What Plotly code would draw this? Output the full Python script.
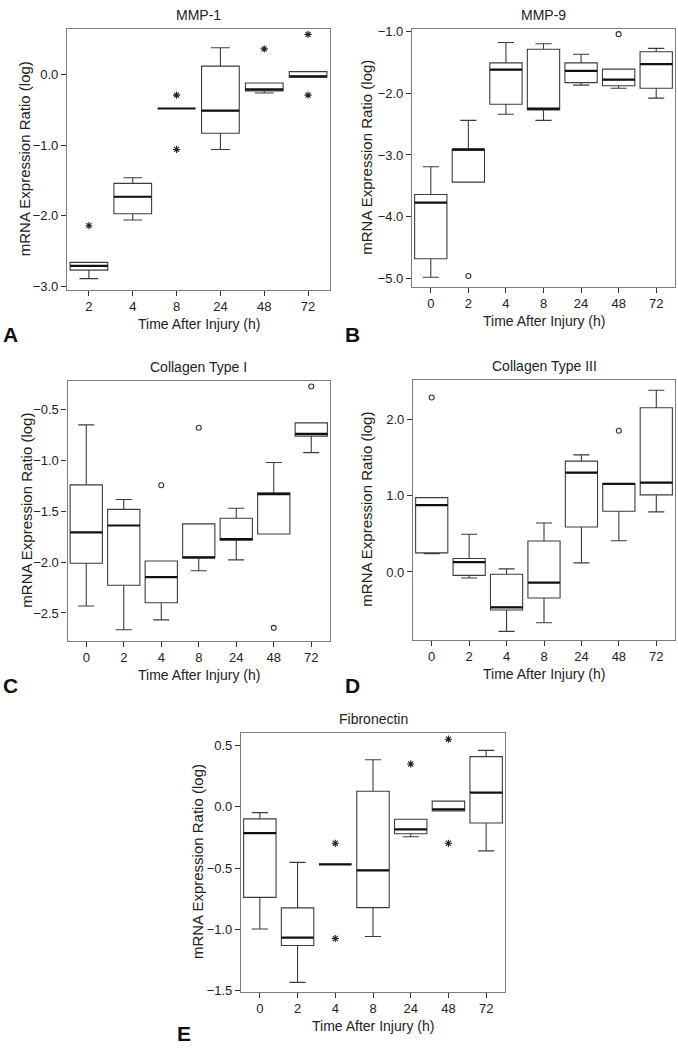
import plotly.graph_objects as go

# ---- data (log mRNA expression ratio) ----
TIMES_A = ["2", "4", "8", "24", "48", "72"]
TIMES = ["0", "2", "4", "8", "24", "48", "72"]

# A: MMP-1
A_Q1 = [-2.77, -1.97, -0.48, -0.83, -0.23, -0.038]
A_MED = [-2.71, -1.73, -0.48, -0.51, -0.21, -0.024]
A_Q3 = [-2.66, -1.54, -0.48, 0.12, -0.118, 0.042]
A_LO = [-2.89, -2.06, -0.48, -1.06, -0.26, -0.038]
A_HI = [-2.66, -1.46, -0.48, 0.38, -0.118, 0.042]
A_STAR_T = ["2", "8", "8", "48", "72", "72"]
A_STAR_V = [-2.14, -0.29, -1.06, 0.365, 0.57, -0.29]

# B: MMP-9
B_Q1 = [-4.68, -3.44, -2.18, -2.27, -1.83, -1.88, -1.92]
B_MED = [-3.77, -2.91, -1.62, -2.25, -1.64, -1.78, -1.53]
B_Q3 = [-3.64, -2.91, -1.51, -1.29, -1.51, -1.61, -1.33]
B_LO = [-4.98, -3.44, -2.34, -2.44, -1.87, -1.92, -2.08]
B_HI = [-3.19, -2.44, -1.18, -1.20, -1.37, -1.61, -1.275]
B_CIRC_T = ["2", "48"]
B_CIRC_V = [-4.96, -1.045]

# C: Collagen Type I
C_Q1 = [-2.011, -2.228, -2.40, -1.959, -1.784, -1.725, -0.763]
C_MED = [-1.709, -1.641, -2.147, -1.955, -1.774, -1.333, -0.74]
C_Q3 = [-1.242, -1.482, -1.99, -1.625, -1.57, -1.32, -0.633]
C_LO = [-2.432, -2.665, -2.568, -2.085, -1.978, -1.725, -0.925]
C_HI = [-0.652, -1.385, -1.99, -1.625, -1.472, -1.022, -0.633]
C_CIRC_T = ["4", "8", "48", "72"]
C_CIRC_V = [-1.246, -0.68, -2.646, -0.276]

# D: Collagen Type III
D_Q1 = [0.25, -0.044, -0.497, -0.341, 0.59, 0.795, 1.01]
D_MED = [0.875, 0.129, -0.462, -0.138, 1.30, 1.155, 1.17]
D_Q3 = [0.974, 0.176, -0.03, 0.405, 1.451, 1.158, 2.151]
D_LO = [0.238, -0.078, -0.778, -0.665, 0.12, 0.41, 0.787]
D_HI = [0.974, 0.495, 0.041, 0.642, 1.533, 1.158, 2.38]
D_CIRC_T = ["0", "48"]
D_CIRC_V = [2.285, 1.849]

# E: Fibronectin
E_Q1 = [-0.739, -1.132, -0.47, -0.823, -0.22, -0.035, -0.132]
E_MED = [-0.215, -1.067, -0.47, -0.519, -0.185, -0.022, 0.116]
E_Q3 = [-0.099, -0.825, -0.47, 0.126, -0.102, 0.046, 0.409]
E_LO = [-0.997, -1.433, -0.47, -1.059, -0.245, -0.035, -0.36]
E_HI = [-0.048, -0.454, -0.47, 0.384, -0.102, 0.046, 0.46]
E_STAR_T = ["4", "4", "24", "48", "48"]
E_STAR_V = [-0.298, -1.075, 0.349, 0.551, -0.298]

W, H = 678, 1050
FONT = "Liberation Sans, Arial, sans-serif"
BOXW = 0.86

panels = [
    dict(title="MMP-1", letter="A", cats=TIMES_A, q1=A_Q1, med=A_MED, q3=A_Q3, lo=A_LO, hi=A_HI,
         circ=([], []), star=(A_STAR_T, A_STAR_V),
         box=(67, 330, 24, 288), yr=[-3.047, 0.65], ytick=[-3, -2, -1, 0],
         ytitle_x=24, lpos=(10, 333)),
    dict(title="MMP-9", letter="B", cats=TIMES, q1=B_Q1, med=B_MED, q3=B_Q3, lo=B_LO, hi=B_HI,
         circ=(B_CIRC_T, B_CIRC_V), star=([], []),
         box=(412, 675, 24, 285), yr=[-5.133, -0.957], ytick=[-5, -4, -3, -2, -1],
         ytitle_x=367, lpos=(352, 333)),
    dict(title="Collagen Type I", letter="C", cats=TIMES, q1=C_Q1, med=C_MED, q3=C_Q3, lo=C_LO, hi=C_HI,
         circ=(C_CIRC_T, C_CIRC_V), star=([], []),
         box=(67.5, 330, 380, 643), yr=[-2.772, -0.218], ytick=[-2.5, -2, -1.5, -1, -0.5],
         ytitle_x=27, lpos=(10, 688)),
    dict(title="Collagen Type III", letter="D", cats=TIMES, q1=D_Q1, med=D_MED, q3=D_Q3, lo=D_LO, hi=D_HI,
         circ=(D_CIRC_T, D_CIRC_V), star=([], []),
         box=(413, 675, 379, 642), yr=[-0.886, 2.518], ytick=[0, 1, 2],
         ytitle_x=367, lpos=(352, 688)),
    dict(title="Fibronectin", letter="E", cats=TIMES, q1=E_Q1, med=E_MED, q3=E_Q3, lo=E_LO, hi=E_HI,
         circ=([], []), star=(E_STAR_T, E_STAR_V),
         box=(241, 505, 736, 998), yr=[-1.508, 0.605], ytick=[-1.5, -1, -0.5, 0, 0.5],
         ytitle_x=197, lpos=(184, 1040)),
]

fig = go.Figure()
annotations = []
layout_axes = {}


def px(x):
    return x / W


def py(y):
    return 1 - y / H


for k, p in enumerate(panels):
    n = len(p["cats"])
    pos = list(range(n))
    xa = "x" if k == 0 else "x%d" % (k + 1)
    ya = "y" if k == 0 else "y%d" % (k + 1)

    fig.add_trace(go.Box(
        x=pos, q1=p["q1"], median=p["med"], q3=p["q3"],
        lowerfence=p["lo"], upperfence=p["hi"],
        width=BOXW, whiskerwidth=0.5,
        fillcolor="white", line=dict(color="#3c3c3c", width=1.1),
        xaxis=xa, yaxis=ya, showlegend=False, hoverinfo="y",
    ))

    # thick median bars
    mx, my = [], []
    for i, m in zip(pos, p["med"]):
        mx += [i - BOXW / 2, i + BOXW / 2, None]
        my += [m, m, None]
    fig.add_trace(go.Scatter(x=mx, y=my, mode="lines", line=dict(color="#111", width=2.2),
                             xaxis=xa, yaxis=ya, showlegend=False, hoverinfo="skip"))

    ct, cv = p["circ"]
    if ct:
        fig.add_trace(go.Scatter(
            x=[p["cats"].index(t) for t in ct], y=cv, mode="markers",
            marker=dict(symbol="circle-open", size=5, color="#333", line=dict(width=1.1)),
            xaxis=xa, yaxis=ya, showlegend=False))
    st, sv = p["star"]
    if st:
        fig.add_trace(go.Scatter(
            x=[p["cats"].index(t) for t in st], y=sv, mode="markers",
            marker=dict(symbol="asterisk-open", size=6, color="#222", line=dict(width=1.1, color="#222")),
            xaxis=xa, yaxis=ya, showlegend=False))

    x0, x1, y0, y1 = p["box"]
    axis_common = dict(showline=True, mirror=True, linecolor="#7d7d7d", linewidth=1.2,
                       ticks="outside", ticklen=5, tickcolor="#333", tickwidth=1.2,
                       showgrid=False, zeroline=False, fixedrange=True,
                       tickfont=dict(family=FONT, size=13, color="#222"))
    layout_axes["xaxis" if k == 0 else "xaxis%d" % (k + 1)] = dict(
        axis_common, domain=[px(x0), px(x1)], anchor=ya, range=[-0.5, n - 0.5],
        tickvals=pos, ticktext=p["cats"])
    layout_axes["yaxis" if k == 0 else "yaxis%d" % (k + 1)] = dict(
        axis_common, domain=[py(y1), py(y0)], anchor=xa, range=p["yr"],
        tickvals=p["ytick"], tickformat=".1f")

    cx = (x0 + x1) / 2
    annotations += [
        dict(text=p["title"], x=px(cx), y=py(y0 - 14), xref="paper", yref="paper",
             showarrow=False, font=dict(family=FONT, size=14, color="#222"),
             xanchor="center", yanchor="middle"),
        dict(text="Time After Injury (h)", x=px(cx), y=py(y1 + 35), xref="paper", yref="paper",
             showarrow=False, font=dict(family=FONT, size=14, color="#222"),
             xanchor="center", yanchor="middle"),
        dict(text="mRNA Expression Ratio (log)", x=px(p["ytitle_x"]), y=py((y0 + y1) / 2),
             xref="paper", yref="paper", textangle=-90, showarrow=False,
             font=dict(family=FONT, size=15, color="#222"), xanchor="center", yanchor="middle"),
        dict(text="<b>%s</b>" % p["letter"], x=px(p["lpos"][0]), y=py(p["lpos"][1]),
             xref="paper", yref="paper", showarrow=False,
             font=dict(family=FONT, size=21, color="#111"), xanchor="center", yanchor="middle"),
    ]

fig.update_layout(
    width=W, height=H, margin=dict(l=0, r=0, t=0, b=0),
    paper_bgcolor="white", plot_bgcolor="white",
    annotations=annotations, **layout_axes,
)

# drop the default page margin so the figure fills the window exactly
fig.write_html("out.html", config={"displayModeBar": False},
               post_script="document.body.style.margin='0';")
